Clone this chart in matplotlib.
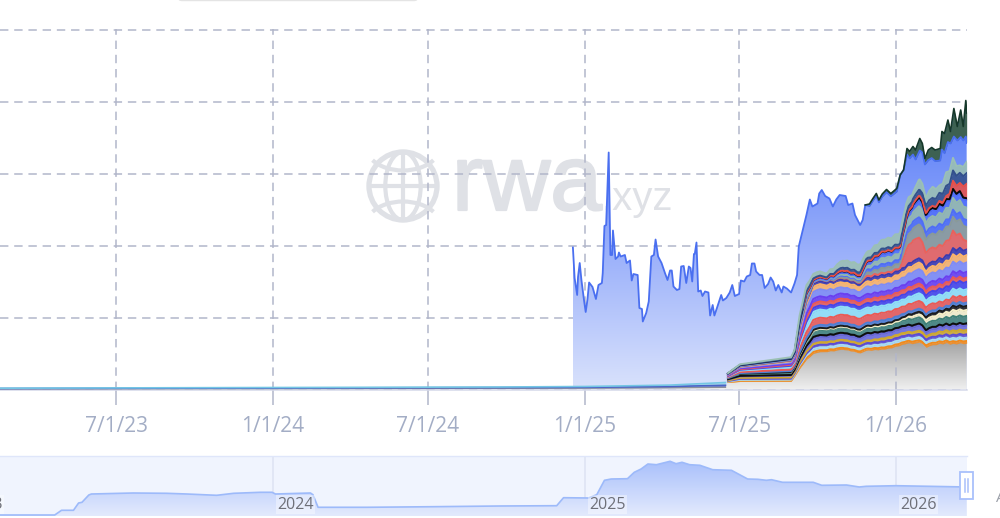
import numpy as np
import matplotlib
matplotlib.use("Agg")
import matplotlib.pyplot as plt
import matplotlib.dates as mdates
import matplotlib.patches as mp
import matplotlib.patheffects as pe
from matplotlib.colors import LinearSegmentedColormap as LSC
from datetime import date

EPOCH = date(2025, 1, 1)
def dn(days):
    return mdates.date2num(EPOCH) + np.asarray(days, float)

# Total series (days from 2025-01-01, value in chart units)
total_days = [-14,-12,-9,-8,-6,-4,-1,1,3,5,9,13,16,20,21,23,25,28,30,32,33,36,39,40,42,47,49,53,55,57,62,64,67,68,72,75,78,81,83,86,90,94,97,100,102,104,108,111,113,116,119,122,124,126,128,129,131,133,136,138,141,145,147,150,152,155,160,162,166,170,173,176,181,183,187,190,194,196,199,201,205,208,211,215,218,221,224,227,231,233,237,242,246,249,251,254,260,264,267,273,275,278,282,287,291,295,299,306,309,314,317,323,326,329,334,338,342,345,349,354,359,366,370,374,378,381,385,388,393,396,399,403,407,411,417,419,422,426,429,433,437,441,444,447,448]
total_vals = [142,111.5,94.5,112.5,126.5,109.5,89.5,77.5,89.5,107,102.5,90.5,104.5,106.5,116.5,163.5,164.5,237,134.5,134.5,159,130.5,133,137,133,134.5,126.5,129,109,115.5,114.5,81.5,80.5,68,76.5,88,133,134.5,150,133,126.5,116.5,109.5,119,119,103,99.5,100.5,123,123.5,106.5,123,121.5,108,135.5,135.5,147,98,99,93.5,98,97,74,84.5,74,81.5,94.5,89,91.5,97,104.5,93.5,95.5,109,108,113,114.5,126,126,118,114.5,114.5,101.5,105.5,112,108,99,104.5,97,103,101,97,106,114.5,143,153.5,174.5,190,183,186,196,199.5,193.5,191,183,190,194.5,193.5,184.5,186,174.5,164.5,169.5,184.5,185.5,191,196,189.5,195.5,200,196,201,214.5,219.5,241,238,243,239.5,251,246,231,239.5,242,239.5,241,258,256,269.5,258,281,263,279.5,263,289,276.5]

# Dark green top layer
green_days = [329,334,366,370,374,378,385,393,399,403,417,419,426,429,433,437,441,444,447,448]
green_vals = [0,2,3,0,0,6,8,12,6,10,12,18,22,12,28,14,27,14,36,30]

# Thin strip before mid-2025
early_days = [-686,-500,-300,-100,0,100,165]
early_gray = [0.6,0.8,1,1.2,1.4,1.8,2.2]
early_blue = [0.4,0.5,0.6,0.7,0.8,1.2,2]
early_cyan = [0.3,0.4,0.5,0.6,0.8,1.4,2.8]

# Stack from the late-June 2025 step on
stack_days = [168,182,242,246,252,260,268,283,303,323,330,350,370,377,385,393,401,409,416,424,432,440,448]
gray_base = [7,8,8,13,21,30,36,38,40,37,39,40,44,46,46,46,44,45,46,46,45,46,46]
layer_01 = [.5,.6,.8,.8,1,1.3,1.5,1.5,1.5,1.5,1.5,1.7,1.8, 2,2,2,2,2,2,2.2,2.2,2.3,2.3]
layer_02 = [.5,1,1,1,2,2.5,3,3,3,3,3,3.2,3.4, 3,3.2,3.2,3,3,3,3,3.2,3.3,3.3]
layer_03 = [.5,1,1,1,1.5,2,2.5,2.5,2.5,2.5,2.5,2.8,3, 2.8,3,3,3,3,3,3,3.2,3.2,3.3]
layer_04 = [.5,1,1.2,1.2,1.5,2,2.5,2.5,2.5,2.5,2.5,3,3, 3,3,3.2,3.2,3.2,3.8,4,4.2,4.2,4.3]
layer_05 = [1,1.5,2,2,3,4,5,5,5,5,5.5,5,5, 5,5,5,4.8,4.8,4.8,4.5,4.7,4.7,4.7]
layer_06 = [.3,.5,.5,.5,1,1.5,2,2,2,2,2,2,2, 2,2,2,2,2,2,2,2,2,2]
layer_07 = [1,2,2.5,2.5,3,4,5,5,5,5,5,5,5, 5.5,6,6,6,6,6,6.5,7.3,7.3,7.3]
layer_08 = [0,0,.2,.2,.5,.5,1,1,1,1,1,1,1.5, 2,3,3,4.5,4.5,5,5,6,6,6]
layer_09 = [0,.2,.3,.3,.5,.7,1,1,1,1,1.2,1.5,1.5, 2,2.5,2.5,3,3,3,3,4,4,4]
layer_10 = [.4,.6,1,1,2,2.5,3,3,3,3,3,3.5,3.5, 3,3,3,3,3,3,3,3.3,3.3,3.3]
layer_11 = [.5,1,1.5,1.5,4,6,7,7,8,8,7.5,7.5,7.5, 7,7.5,7.5,7,7,6,6,6,6,6]
layer_12 = [.8,1.5,2.5,2.5,5,7,8,8,8,8,7.5,7,7, 7,7.5,7.5,7,7,7,7,7.3,7.3,7.3]
layer_13 = [.4,.8,1.2,1.2,2.5,3.5,4,4,4,4,4.5,4.5,4.5, 5,5,5,5.5,5.5,6,6,7,7.3,7.3]
layer_14 = [.4,.6,1,1,2,3.5,4,4,4,4,4,4.5,4.5, 4.5,4.5,4.5,4.5,4.5,4.3,4.3,4.3,4.3,4.3]
layer_15 = [.5,.8,1,1,3,4.5,5,5,5,5,5,5,5, 5,5.5,5.5,5.5,5.5,5.5,5.5,5.7,5.7,5.7]
layer_16 = [.6,1,1.5,2,4,6,7,7,6,6,7.5,7,7, 8,8.5,8.5,8.5,8.5,8.5,8.5,9.3,9.3,9.3]
layer_17 = [.3,.6,1,1,3,4,5,5,5,5,5,5.5,5.5, 6,6.5,6.5,6.5,6.5,6.5,7,7.3,7.3,7.3]
layer_18 = [.3,.5,.8,.8,2,2.5,3,3,3,3,3.5,4,4, 3.7,4.3,4.1,4.4,4.4,5.6,5.2,6,6.1,5.6]
layer_19 = [.1,.2,.3,.3,.8,1,1.5,1.5,1.5,1.5,2,2,2, 16,21,20,15,14,13,14,17,14,8.3]
layer_20 = [0,.1,.2,.3,.5,.5,.2,.2,.5,.5,3,5,5, 10,12,13,14,14,14,14,13.5,14,14]
layer_21 = [.1,.2,.3,.5,1,1.5,.3,.3,2,2,3,4,4, 6,7,7,7,7,7,7,7,7,7]
layer_22 = [.1,.2,.3,.5,1,1.5,.3,.3,1,1,3,6,6, 8.5,9,11,10.5,10.5,11,11.3,11.5,12,12.5]
layer_23 = [.1,.2,.3,.5,1.5,2,.3,.3,2,2,3,4.3,4.3, 5,6,6.7,6.5,6.5,7,7,7,7.2,7.5]
layer_24 = [.1,.2,.3,.4,.7,1,1.2,1.2,1.5,1.5,1.5,1.7,1.7, 1.7,1.7,1.7,1.7,1.7,1.7,1.7,1.7,1.7,1.7]
layer_25 = [0,0,0,0,0,.2,.2,.2,.5,.5,.5,.5,.5, 1,1,2,2,2,3,3,8,8,14.3]
layer_26 = [.1,.3,.5,.7,1.5,2,1.5,1.2,3,3,3,3,3, 4,5,6,8,8,8,10,10,10,10.7]
layer_27 = [.3,.6,1.1,1.6,4.5,6.1,4.5,3.8,7,8,6.1,8.8,10.8, 10.3,6.3,10.3,8.3,11.3,7.3,13.3,12.3,7.3,11.3]
layers = [layer_01,layer_02,layer_03,layer_04,layer_05,layer_06,layer_07,layer_08,layer_09,
          layer_10,layer_11,layer_12,layer_13,layer_14,layer_15,layer_16,layer_17,layer_18,
          layer_19,layer_20,layer_21,layer_22,layer_23,layer_24,layer_25,layer_26,layer_27]
layer_colors = ['#f08a1d','#a8dcf0','#5b4bd4','#d0a92a','#6a6ad8','#0e0e0e','#3f8078','#f6efc8','#1c1c1c',
                '#4d7fd4','#ea5a55','#8fe0f6','#4545ea','#ea5a55','#6a3ff0','#7f8cf5','#fcb468','#3b3bb0',
                '#ea625c','#8a9a98','#4f6ef5','#93b8ae','#4f6efa','#0a0a0a','#e85048','#33508c','#9bc0b4']

# Shared day-to-day movement of the stacked series
ripple_days = [252,256,260,264,268,272,276,280,284,288,292,296,300,304,308,312,316,320,324,328,332,336,340,344,348,352,356,360,364,368,372,376,380,384,388,392,396,400,404,408,412,416,420,424,428,432,436,440,444,448]
ripple_vals = [1,1,1.005,.995,1,1.012,1.018,1.005,.992,1.006,.99,1.006,1.01,1,1.008,.995,1.002,.985,.99,1,1.008,.995,1.012,.998,1.012,1,1.005,.99,1.008,1,1.012,1,1.015,.995,1.012,1.025,1.01,.955,.985,.998,.985,1.005,.99,1.02,.995,1.025,1,1.015,.995,1.005]

# Range-selector overview
overview_days = [-686,-622,-614,-600,-594,-590,-582,-579,-530,-491,-467,-432,-412,-381,-367,-363,-322,-319,-313,-256,-178,-100,-33,-25,4,14,23,31,50,58,66,74,84,100,107,114,123,135,150,172,191,203,213,219,232,268,278,307,322,330,365,448]
overview_vals = [1,1,5.7,5.7,13,13.7,21,22,23,22.7,22,20.7,22.7,23.7,23.7,22,23,21.3,8.7,8.7,9.3,10,10.3,18.3,18,21.3,35.7,37,37.3,43.7,47,52,51.3,54.7,52.3,53.7,51.3,50.7,46.3,45.7,37,36.7,35.7,36.3,33.7,33.7,30.7,31,29,29.7,30.3,29]

grid_dates = [date(2023,7,1),date(2024,1,1),date(2024,7,1),date(2025,1,1),date(2025,7,1),date(2026,1,1)]
grid_labels = ['7/1/23','1/1/24','7/1/24','1/1/25','7/1/25','1/1/26']
y_ticks = [0,72,144,216,288,360]
year_dates = [date(2023,1,1),date(2024,1,1),date(2025,1,1),date(2026,1,1)]
year_labels = ['2023','2024','2025','2026']

W, H = 1000, 518
plt.rcParams['font.family'] = ['Open Sans', 'DejaVu Sans']
fig = plt.figure(figsize=(W/100, H/100), dpi=100, facecolor='white')
def rect(l, t, r, b):
    return [l/W, 1-b/H, (r-l)/W, (b-t)/H]

# background layer in pixel units: watermark, clipped legend box
bg = fig.add_axes([0,0,1,1], zorder=0); bg.set_xlim(0,W); bg.set_ylim(H,0); bg.axis('off')
WM = '#dfe1e6'
bg.text(452, 210, 'rwa', fontsize=67, color=WM, family='Liberation Sans', va='baseline',
        path_effects=[pe.withStroke(linewidth=1.6, foreground=WM)])
bg.text(601, 210, '.xyz', fontsize=29, color=WM, family='Liberation Sans', va='baseline')
cx, cy, r = 403, 186, 34
bg.add_patch(mp.Circle((cx,cy), r, fill=False, ec=WM, lw=3.8))
bg.add_patch(mp.Ellipse((cx,cy), 2*r*0.52, 2*r, fill=False, ec=WM, lw=3))
bg.plot([cx,cx],[cy-r,cy+r],color=WM,lw=3); bg.plot([cx-r,cx+r],[cy,cy],color=WM,lw=3)
bg.add_patch(mp.Arc((cx,cy-r-6), 2*r*1.1, 2*r*0.72, theta1=25, theta2=155, fill=False, ec=WM, lw=3))
bg.add_patch(mp.Arc((cx,cy+r+6), 2*r*1.1, 2*r*0.72, theta1=205, theta2=335, fill=False, ec=WM, lw=3))
bg.add_patch(mp.FancyBboxPatch((178,-10),240,10.5,boxstyle='round,pad=0,rounding_size=4',fc='white',ec='#e4e4e4',lw=1))
bg.text(996, 499, 'A', fontsize=11, color='#9a9fa8', va='center', ha='left')

# main axes
ax = fig.add_axes(rect(0, 29, 967, 389.5), zorder=1, facecolor='none')
xmin, xmax = dn(-686.2), dn(448.4)
ymax = 360.5

def gradient_area(a, xs, top, c_top, c_bot, vmax, zorder):
    cmap = LSC.from_list('g', [c_bot, c_top])
    xl, yl = a.get_xlim(), a.get_ylim()
    im = a.imshow(np.linspace(1,0,256).reshape(-1,1), cmap=cmap, aspect='auto', vmin=0, vmax=1,
                  extent=[xs[0], xs[-1], 0, vmax], zorder=zorder, interpolation='bilinear')
    verts = np.column_stack([np.r_[xs, xs[-1], xs[0]], np.r_[top, 0, 0]])
    poly = mp.Polygon(verts, closed=True, transform=a.transData, fc='none', ec='none')
    a.add_patch(poly)
    im.set_clip_path(poly)
    a.set_xlim(xl); a.set_ylim(yl)

ax.set_xlim(xmin, xmax); ax.set_ylim(0, ymax)
tx = dn(total_days); tv = np.array(total_vals, float)
gradient_area(ax, tx, tv, '#5478f8', '#d9e2fc', 290, 2)

# dark green top band
g = np.interp(total_days, green_days, green_vals, left=0)
blue_top = tv - g
mask = np.array(total_days) >= 329
ax.fill_between(tx[mask], blue_top[mask], tv[mask], color='#3d6152', lw=0, zorder=3)
ax.plot(tx, blue_top, color='#4a6ff0', lw=1.3, zorder=4)
ax.plot(tx[mask], tv[mask], color='#16382a', lw=1.2, zorder=5)

# stacked values on a finer day grid
fine_days = np.array(sorted(set(stack_days) | set(ripple_days)))
ripple = np.interp(fine_days, ripple_days, ripple_vals, left=1)
sx = dn(fine_days)
gray_fine = np.interp(fine_days, stack_days, gray_base) * ripple

# gray base with gradient
base_x = np.r_[dn(early_days), sx]
base_y = np.r_[early_gray, gray_fine]
gradient_area(ax, base_x, base_y, '#a6a6a6', '#efefef', 46, 6)

# thin strip
ex = dn(early_days)
e1 = np.array(early_gray); e2 = e1 + early_blue; e3 = e2 + early_cyan
ax.fill_between(ex, e1, e2, color='#7b8bd0', lw=0, zorder=7)
ax.fill_between(ex, e2, e3, color='#a7dbe8', lw=0, zorder=7)
ax.plot(ex, e1, color='#8a8f9a', lw=1, zorder=8)
ax.plot(ex, e2, color='#4a62c8', lw=1.2, zorder=8)
ax.plot(ex, e3, color='#74c6e4', lw=1.2, zorder=8)

# stacked layers
bottom = gray_fine.copy()
for i, (vals, col) in enumerate(zip(layers, layer_colors)):
    v = np.interp(fine_days, stack_days, vals) * ripple
    top = bottom + v
    ax.fill_between(sx, bottom, top, color=col, alpha=0.88, lw=0, zorder=9+i*0.01)
    ax.plot(sx, np.where(v > 0, top, np.nan), color=col, lw=1.4, zorder=9.5+i*0.01)
    bottom = top

# grid
gc = '#b2b6ca'
ax.set_xticks(mdates.date2num(grid_dates)); ax.set_xticklabels(grid_labels)
ax.set_yticks(y_ticks); ax.set_yticklabels([])
ax.grid(True, color=gc, lw=1.1, ls=(0,(5.5,3.8)), zorder=1)
ax.set_axisbelow(True)
ax.tick_params(axis='x', length=11, color=gc, width=1.1, pad=8, labelsize=15, labelcolor='#a3adc5')
ax.tick_params(axis='y', length=0)
for s in ax.spines.values():
    s.set_visible(False)
# gridline and baseline show through the translucent gray base
d26 = mdates.date2num(date(2026,1,1))
ax.plot([d26, d26], [0, 42], color=gc, lw=1.1, ls=(0,(5.5,3.8)), zorder=7)
ax.axhline(0, color='#d5d9ea', lw=1.1, zorder=7, clip_on=False)

# range selector
nav = fig.add_axes(rect(0, 456, 967, 516), zorder=1, facecolor='#f0f4fe')
nav.set_xlim(xmin, xmax); nav.set_ylim(0, 60)
ox = dn(overview_days); ov = np.array(overview_vals, float)
gradient_area(nav, ox, ov, '#a9c0fb', '#e3eafd', 55, 2)
nav.plot(ox, ov, color='#9dbafa', lw=1.2, zorder=3)
nav.set_xticks([]); nav.set_yticks([])
for s in nav.spines.values():
    s.set_visible(False)
nav.spines['top'].set_visible(True); nav.spines['top'].set_color('#dfe6fa'); nav.spines['top'].set_linewidth(1)
for d, lab in zip(year_dates, year_labels):
    x = mdates.date2num(d)
    nav.axvline(x, color='#dde3f3', lw=1.1, zorder=1.5)
    nav.annotate(lab, (x, 0), xytext=(3, 2.5), textcoords='offset points', fontsize=11.5, color='#6e7079',
                 va='bottom', ha='left', annotation_clip=False, zorder=4,
                 bbox=dict(fc=(1,1,1,0.4), ec='none', pad=0.8))

# handle
hd = fig.add_axes([0,0,1,1], zorder=3, facecolor='none'); hd.set_xlim(0,W); hd.set_ylim(H,0); hd.axis('off')
hd.add_patch(mp.Rectangle((959.5,472),13,27,fc='white',ec='#a9c0fb',lw=1.3))
hd.plot([964.5,964.5],[479,492],color='#a9c0fb',lw=1.1); hd.plot([967.5,967.5],[479,492],color='#a9c0fb',lw=1.1)

fig.savefig('out.png', dpi=100)
